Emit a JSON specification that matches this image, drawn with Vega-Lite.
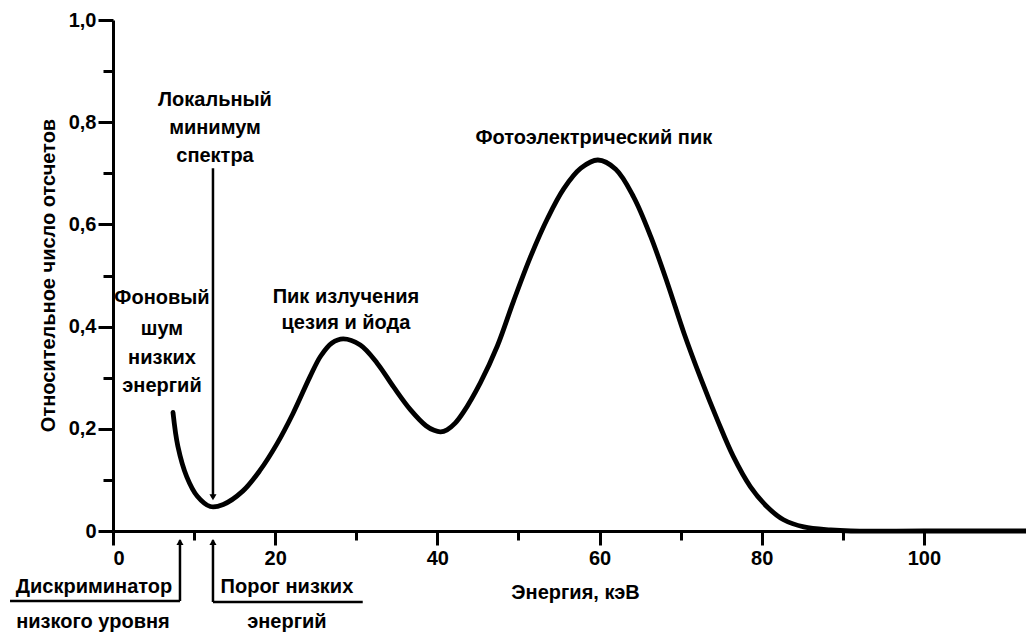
{
  "$schema": "https://vega.github.io/schema/vega-lite/v6.json",
  "width": 913,
  "height": 511,
  "autosize": {"type": "none"},
  "padding": {"left": 113, "top": 20, "right": 0, "bottom": 103},
  "background": "white",
  "datasets": {
    "curve": [
      {"x": 7.4, "y": 0.232}, {"x": 8.0, "y": 0.166}, {"x": 9.1, "y": 0.106},
      {"x": 10.4, "y": 0.068}, {"x": 12.0, "y": 0.048}, {"x": 13.6, "y": 0.052},
      {"x": 16.0, "y": 0.078}, {"x": 18.1, "y": 0.118}, {"x": 20.2, "y": 0.170},
      {"x": 22.2, "y": 0.230}, {"x": 24.3, "y": 0.302}, {"x": 25.6, "y": 0.342},
      {"x": 27.0, "y": 0.368}, {"x": 28.4, "y": 0.376}, {"x": 30.5, "y": 0.364},
      {"x": 32.6, "y": 0.328}, {"x": 34.6, "y": 0.282}, {"x": 36.7, "y": 0.237},
      {"x": 38.6, "y": 0.206}, {"x": 39.6, "y": 0.197}, {"x": 40.4, "y": 0.194},
      {"x": 41.2, "y": 0.198}, {"x": 42.2, "y": 0.211}, {"x": 43.2, "y": 0.232},
      {"x": 45.3, "y": 0.290}, {"x": 47.4, "y": 0.362},
      {"x": 49.4, "y": 0.450}, {"x": 51.5, "y": 0.537}, {"x": 53.6, "y": 0.612},
      {"x": 55.6, "y": 0.670}, {"x": 57.7, "y": 0.710}, {"x": 59.8, "y": 0.726},
      {"x": 62.0, "y": 0.708}, {"x": 64.2, "y": 0.654}, {"x": 66.3, "y": 0.577},
      {"x": 68.4, "y": 0.484}, {"x": 70.4, "y": 0.388}, {"x": 72.5, "y": 0.298},
      {"x": 74.6, "y": 0.215}, {"x": 76.5, "y": 0.146}, {"x": 78.6, "y": 0.087},
      {"x": 80.7, "y": 0.047}, {"x": 82.7, "y": 0.022}, {"x": 85.2, "y": 0.008},
      {"x": 88.5, "y": 0.002}, {"x": 91.0, "y": 0.0}, {"x": 100.0, "y": 0.0},
      {"x": 112.6, "y": 0.0}
    ],
    "rules": [
      {"x": 12.33, "y": 0.71, "x2": 12.33, "y2": 0.065},
      {"x": 8.26, "y": -0.018, "x2": 8.26, "y2": -0.137},
      {"x": -12.7, "y": -0.137, "x2": 8.26, "y2": -0.137},
      {"x": 12.33, "y": -0.018, "x2": 12.33, "y2": -0.139},
      {"x": 12.33, "y": -0.139, "x2": 30.8, "y2": -0.139}
    ],
    "arrows": [
      {"x": 12.33, "y": 0.066, "dir": "down"},
      {"x": 8.26, "y": -0.0215, "dir": "up"},
      {"x": 12.33, "y": -0.0215, "dir": "up"}
    ],
    "labels": [
      {"x": 12.58, "y": 0.843, "text": "Локальный"},
      {"x": 12.58, "y": 0.789, "text": "минимум"},
      {"x": 12.58, "y": 0.734, "text": "спектра"},
      {"x": 6.04, "y": 0.456, "text": "Фоновый"},
      {"x": 6.04, "y": 0.395, "text": "шум"},
      {"x": 6.04, "y": 0.339, "text": "низких"},
      {"x": 6.04, "y": 0.284, "text": "энергий"},
      {"x": 28.73, "y": 0.458, "text": "Пик излучения"},
      {"x": 28.73, "y": 0.407, "text": "цезия и йода"},
      {"x": 59.3, "y": 0.769, "text": "Фотоэлектрический пик"},
      {"x": -2.34, "y": -0.1096, "text": "Дискриминатор"},
      {"x": -2.47, "y": -0.178, "text": "низкого уровня"},
      {"x": 21.45, "y": -0.1096, "text": "Порог низких"},
      {"x": 21.45, "y": -0.178, "text": "энергий"}
    ]
  },
  "encoding": {
    "x": {
      "field": "x",
      "type": "quantitative",
      "scale": {"domain": [0, 112.6], "nice": false, "zero": false},
      "axis": {
        "title": "Энергия, кэВ",
        "values": [0, 10, 20, 30, 40, 50, 60, 70, 80, 90, 100],
        "labelExpr": "datum.value % 20 === 0 ? datum.label : ''",
        "tickSize": {"condition": {"test": "datum.value % 20 === 0", "value": 14}, "value": 9},
        "labelPadding": 3,
        "titleX": 462,
        "titleY": 61,
        "titleBaseline": "middle"
      }
    },
    "y": {
      "field": "y",
      "type": "quantitative",
      "scale": {"domain": [0, 1], "nice": false, "zero": false},
      "axis": {
        "title": "Относительное число отсчетов",
        "values": [0, 0.1, 0.2, 0.3, 0.4, 0.5, 0.6, 0.7, 0.8, 0.9, 1.0],
        "labelExpr": "round(datum.value * 10) % 2 === 0 ? (datum.value === 0 ? '0' : replace(format(datum.value, '.1f'), '.', ',')) : ''",
        "tickSize": {"condition": {"test": "round(datum.value * 10) % 2 === 0", "value": 15}, "value": 10},
        "labelPadding": 2,
        "titleX": -65,
        "titleY": 255,
        "titleAngle": -90,
        "titleBaseline": "middle",
        "titleAlign": "center"
      }
    }
  },
  "layer": [
    {
      "data": {"name": "curve"},
      "mark": {"type": "line", "color": "black", "strokeWidth": 4.8, "interpolate": "catmull-rom", "strokeCap": "round"}
    },
    {
      "data": {"name": "rules"},
      "mark": {"type": "rule", "color": "black", "strokeWidth": 2.5},
      "encoding": {
        "x2": {"field": "x2"},
        "y2": {"field": "y2"}
      }
    },
    {
      "data": {"name": "arrows"},
      "mark": {"type": "point", "filled": true, "color": "black", "opacity": 1, "size": 50},
      "encoding": {
        "shape": {
          "field": "dir",
          "type": "nominal",
          "scale": {"domain": ["down", "up"], "range": ["triangle-down", "triangle-up"]},
          "legend": null
        }
      }
    },
    {
      "data": {"name": "labels"},
      "mark": {"type": "text", "font": "Liberation Sans", "fontWeight": "bold", "fontSize": 20, "color": "black", "align": "center", "baseline": "middle"},
      "encoding": {
        "text": {"field": "text", "type": "nominal"}
      }
    }
  ],
  "config": {
    "view": {"stroke": null},
    "font": "Liberation Sans",
    "axis": {
      "grid": false,
      "domainColor": "black",
      "domainWidth": 3,
      "tickColor": "black",
      "tickWidth": 3,
      "labelColor": "black",
      "labelFont": "Liberation Sans",
      "labelFontSize": 20,
      "labelFontWeight": "bold",
      "titleColor": "black",
      "titleFont": "Liberation Sans",
      "titleFontSize": 20,
      "titleFontWeight": "bold"
    }
  }
}
